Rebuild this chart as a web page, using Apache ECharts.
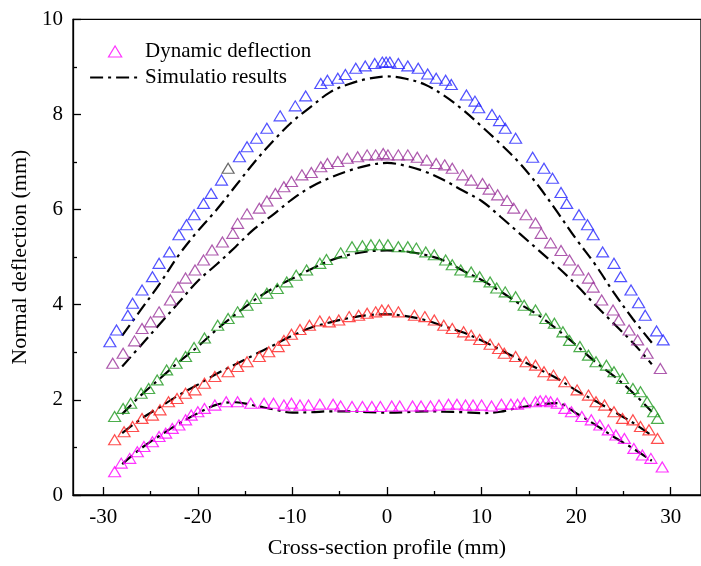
<!DOCTYPE html>
<html>
<head>
<meta charset="utf-8">
<script src="https://cdn.jsdelivr.net/npm/echarts@6/dist/echarts.min.js"></script>
<style>html,body{margin:0;padding:0;background:#fff}#c{width:701px;height:566px}</style>
</head>
<body>
<div id="c"></div>
<script>
// ---- data (x in mm, deflection in mm) ----
const xMajorTicks = [-30, -20, -10, 0, 10, 20, 30];
const xMinorTicks = [-25, -15, -5, 5, 15, 25];

const measBlue = [[-29.3,3.22],[-28.6,3.47],[-27.4,3.78],[-26.9,4.03],[-25.9,4.31],[-24.8,4.59],[-24.1,4.87],[-23.0,5.11],[-22.0,5.47],[-21.2,5.68],[-20.4,5.89],[-19.4,6.13],[-18.6,6.34],[-17.5,6.62],[-16.8,6.87],[-15.6,7.11],[-14.8,7.32],[-13.8,7.5],[-12.7,7.71],[-11.3,7.97],[-9.7,8.18],[-8.6,8.39],[-7.0,8.65],[-6.3,8.72],[-5.2,8.76],[-4.4,8.84],[-3.3,8.97],[-2.3,9.02],[-1.3,9.07],[-0.5,9.1],[-0.1,9.1],[0.3,9.1],[1.2,9.07],[2.2,9.02],[3.3,8.97],[4.3,8.85],[5.2,8.76],[6.2,8.72],[6.8,8.63],[8.4,8.41],[9.3,8.28],[9.7,8.14],[11.1,8.0],[11.9,7.87],[12.5,7.71],[13.6,7.5],[15.4,7.1],[16.6,6.87],[17.5,6.66],[18.4,6.36],[19.0,6.13],[20.3,5.89],[21.2,5.68],[21.8,5.47],[22.8,5.11],[24.0,4.87],[24.7,4.59],[25.8,4.31],[26.6,4.04],[27.3,3.78],[28.5,3.45],[29.2,3.26]];
const measPurple = [[-29.0,2.77],[-27.9,2.98],[-26.7,3.24],[-25.9,3.5],[-25.0,3.64],[-24.1,3.85],[-22.9,4.1],[-22.1,4.37],[-21.3,4.56],[-20.3,4.73],[-19.4,4.94],[-18.5,5.15],[-17.4,5.32],[-16.3,5.5],[-15.8,5.71],[-14.8,5.91],[-13.5,6.03],[-12.7,6.18],[-11.8,6.34],[-10.9,6.48],[-10.1,6.59],[-9.0,6.73],[-8.0,6.78],[-7.0,6.9],[-6.3,6.97],[-5.2,7.01],[-4.2,7.08],[-3.1,7.11],[-2.1,7.15],[-1.2,7.15],[-0.4,7.18],[0.1,7.15],[1.2,7.15],[2.2,7.15],[3.2,7.1],[4.2,7.04],[5.2,6.97],[6.1,6.94],[6.9,6.87],[8.0,6.73],[8.9,6.62],[10.1,6.55],[10.8,6.43],[11.7,6.31],[12.7,6.19],[13.4,6.03],[14.7,5.89],[15.7,5.72],[16.3,5.5],[17.3,5.3],[18.4,5.14],[19.3,4.94],[20.2,4.73],[21.3,4.56],[21.8,4.37],[22.7,4.1],[23.9,3.89],[24.5,3.68],[25.6,3.47],[26.5,3.26],[27.5,2.98],[28.9,2.66]];
const measGreen = [[-28.8,1.65],[-27.9,1.82],[-27.1,1.93],[-26.0,2.14],[-25.2,2.24],[-24.3,2.42],[-23.3,2.63],[-22.3,2.77],[-21.3,2.91],[-20.4,3.1],[-19.3,3.3],[-17.9,3.57],[-16.8,3.71],[-15.8,3.85],[-14.8,3.99],[-13.9,4.13],[-12.7,4.24],[-11.6,4.34],[-10.6,4.48],[-9.6,4.62],[-8.5,4.73],[-7.1,4.87],[-6.4,4.95],[-4.9,5.09],[-3.7,5.22],[-2.6,5.24],[-1.7,5.26],[-0.8,5.26],[0.1,5.26],[1.2,5.22],[2.2,5.22],[3.1,5.19],[4.1,5.11],[5.0,5.05],[6.2,4.94],[6.9,4.84],[7.8,4.73],[8.9,4.69],[9.8,4.59],[10.9,4.48],[11.6,4.35],[12.5,4.27],[13.6,4.17],[14.5,3.99],[15.7,3.89],[16.8,3.71],[17.7,3.61],[18.6,3.43],[19.3,3.25],[20.4,3.12],[21.3,2.94],[22.1,2.8],[23.2,2.73],[24.0,2.59],[24.9,2.45],[26.0,2.24],[26.8,2.17],[27.5,1.96],[28.2,1.75],[28.6,1.61]];
const measRed = [[-28.8,1.16],[-27.8,1.33],[-26.9,1.44],[-25.9,1.61],[-24.8,1.68],[-24.0,1.79],[-23.1,1.96],[-22.2,2.03],[-21.3,2.14],[-20.3,2.21],[-19.3,2.35],[-18.2,2.49],[-16.8,2.59],[-15.8,2.7],[-14.8,2.8],[-13.5,2.91],[-12.5,3.01],[-11.5,3.12],[-10.9,3.25],[-10.1,3.38],[-9.2,3.48],[-8.2,3.57],[-7.1,3.66],[-6.1,3.64],[-5.1,3.68],[-4.0,3.75],[-3.0,3.78],[-2.1,3.82],[-1.2,3.85],[-0.55,3.89],[0.14,3.89],[1.2,3.85],[2.9,3.78],[4.0,3.75],[5.0,3.68],[6.0,3.57],[6.9,3.5],[8.1,3.43],[8.9,3.36],[9.8,3.27],[10.9,3.17],[11.8,3.08],[12.4,2.98],[13.6,2.91],[14.7,2.8],[15.7,2.73],[16.6,2.59],[17.6,2.52],[18.8,2.38],[20.1,2.21],[21.3,2.1],[22.1,1.96],[23.0,1.89],[24.0,1.75],[24.9,1.61],[26.0,1.58],[26.8,1.44],[27.7,1.37],[28.6,1.19]];
const measMagenta = [[-28.8,0.49],[-28.1,0.67],[-27.2,0.77],[-26.4,0.91],[-25.7,1.02],[-24.8,1.12],[-24.1,1.23],[-23.4,1.3],[-22.7,1.4],[-22.0,1.47],[-21.3,1.58],[-20.7,1.68],[-20.0,1.75],[-19.3,1.82],[-18.2,1.89],[-17.0,1.96],[-15.8,1.96],[-14.4,1.93],[-13.0,1.93],[-12.0,1.93],[-10.9,1.89],[-10.1,1.93],[-9.2,1.89],[-8.3,1.89],[-7.1,1.91],[-5.7,1.91],[-4.9,1.87],[-3.7,1.86],[-2.6,1.86],[-1.6,1.86],[-0.7,1.86],[0.5,1.87],[1.35,1.87],[2.7,1.87],[3.6,1.87],[4.6,1.87],[5.5,1.89],[6.5,1.91],[7.4,1.91],[8.3,1.89],[9.1,1.89],[10.0,1.89],[11.05,1.87],[12.1,1.91],[13.1,1.91],[13.8,1.91],[14.5,1.94],[15.7,1.96],[16.2,1.98],[16.8,1.98],[17.3,1.96],[18.0,1.93],[18.8,1.82],[19.5,1.75],[20.6,1.65],[21.6,1.58],[22.5,1.47],[23.4,1.37],[24.2,1.26],[25.1,1.19],[26.1,0.98],[27.0,0.84],[27.9,0.77],[29.1,0.59]];

const simX = [-28,-26,-24,-22,-20,-18,-16,-14,-12,-10,-8,-6,-4,-2,0,2,4,6,8,10,12,14,16,18,20,22,24,26,28];
const simBlue    = [3.35,3.9,4.45,5.05,5.55,6.0,6.5,7.0,7.45,7.85,8.17,8.47,8.64,8.75,8.8,8.75,8.63,8.4,8.1,7.75,7.38,6.98,6.5,5.95,5.38,4.85,4.25,3.7,3.2];
const simPurple  = [2.7,3.15,3.6,4.05,4.5,4.85,5.22,5.6,5.9,6.22,6.48,6.67,6.82,6.93,6.98,6.92,6.8,6.62,6.4,6.18,5.85,5.5,5.15,4.8,4.42,4.0,3.6,3.2,2.75];
const simGreen   = [1.7,2.1,2.45,2.8,3.12,3.48,3.8,4.1,4.35,4.55,4.75,4.93,5.05,5.12,5.14,5.12,5.05,4.93,4.72,4.52,4.28,4.02,3.78,3.48,3.15,2.8,2.5,2.15,1.75];
const simRed     = [1.3,1.6,1.85,2.1,2.32,2.55,2.75,2.95,3.15,3.35,3.52,3.63,3.72,3.78,3.8,3.76,3.68,3.55,3.42,3.25,3.05,2.85,2.65,2.45,2.2,1.98,1.75,1.52,1.25];
const simMagenta = [0.65,0.98,1.25,1.5,1.72,1.9,1.95,1.88,1.8,1.73,1.74,1.76,1.76,1.74,1.73,1.74,1.76,1.75,1.74,1.72,1.75,1.84,1.9,1.93,1.72,1.48,1.22,0.98,0.72];

// ---- chart ----
const FONT = 'Liberation Serif';
const chart = echarts.init(document.getElementById('c'), null, {renderer: 'canvas'});
const triSize = [12, 10];
function meas(name, data, color, z) {
  return {
    type: 'scatter', name: name, data: data, symbol: 'triangle', symbolSize: triSize,
    itemStyle: {color: 'rgba(0,0,0,0)', borderColor: color, borderWidth: 1.2},
    emphasis: {disabled: true}, z: z
  };
}
function sim(vals) {
  return {
    type: 'line', name: 'Simulatio results', data: simX.map((x, i) => [x, vals[i]]),
    showSymbol: false, symbol: 'none', smooth: 0.35,
    itemStyle: {color: '#000'},
    lineStyle: {color: '#000', width: 2.2, type: [13, 5, 3, 5]},
    emphasis: {disabled: true}, z: 3
  };
}
const blue = meas('Dynamic deflection 5', measBlue, '#2626ff', 4);
blue.data = measBlue.map(p => (p[0] === -16.8 ? {value: p, itemStyle: {borderColor: '#444'}} : p));

const option = {
  animation: false,
  backgroundColor: '#fff',
  grid: {left: 73, top: 19.3, width: 639, height: 475.7, show: true, borderColor: '#000', borderWidth: 1.3},
  legend: {
    left: 84, top: 36, orient: 'vertical', itemWidth: 50, itemHeight: 11, itemGap: 5,
    textStyle: {fontFamily: FONT, fontSize: 21, color: '#000'},
    selectedMode: false,
    data: [
      {name: 'Dynamic deflection', icon: 'path://M6,0L12,10L0,10Z',
       itemStyle: {color: 'rgba(0,0,0,0)', borderColor: '#ff00ff', borderWidth: 1.2}},
      {name: 'Simulatio results',
       itemStyle: {color: 'rgba(0,0,0,0)', borderColor: 'rgba(0,0,0,0)', borderWidth: 0, opacity: 0},
       lineStyle: {color: '#000', width: 2.2, type: [13, 5, 3, 5]}}
    ]
  },
  xAxis: [{
    type: 'value', min: -33.2, max: 33.2, position: 'bottom',
    name: 'Cross-section profile (mm)', nameLocation: 'middle', nameGap: 42,
    nameTextStyle: {fontFamily: FONT, fontSize: 22, color: '#000'},
    axisLine: {show: true, onZero: false, lineStyle: {color: '#000', width: 1.3}},
    axisTick: {show: true, inside: true, length: 8, customValues: xMajorTicks, lineStyle: {color: '#000', width: 1.3}},
    axisLabel: {show: true, customValues: xMajorTicks, margin: 12, fontFamily: FONT, fontSize: 21, color: '#000'},
    splitLine: {show: false}
  }, {
    type: 'value', min: -33.2, max: 33.2, position: 'bottom',
    axisLine: {show: false},
    axisTick: {show: true, inside: true, length: 4, customValues: xMinorTicks, lineStyle: {color: '#000', width: 1.3}},
    axisLabel: {show: false},
    splitLine: {show: false}
  }],
  yAxis: {
    type: 'value', min: 0, max: 10, interval: 2,
    name: 'Normal deflection (mm)', nameLocation: 'middle', nameGap: 42, nameRotate: 90,
    nameTextStyle: {fontFamily: FONT, fontSize: 22, color: '#000'},
    axisLine: {show: true, onZero: false, lineStyle: {color: '#000', width: 1.3}},
    axisTick: {show: true, inside: true, length: 8, lineStyle: {color: '#000', width: 1.3}},
    minorTick: {show: true, splitNumber: 2, length: 4, lineStyle: {color: '#000', width: 1.3}},
    axisLabel: {margin: 10, fontFamily: FONT, fontSize: 21, color: '#000'},
    splitLine: {show: false}
  },
  series: [
    sim(simBlue), sim(simPurple), sim(simGreen), sim(simRed), sim(simMagenta),
    blue,
    meas('Dynamic deflection 4', measPurple, '#9a329a', 4),
    meas('Dynamic deflection 3', measGreen, '#1f9a1f', 4),
    meas('Dynamic deflection 2', measRed, '#ff2222', 4),
    meas('Dynamic deflection', measMagenta, '#ff00ff', 4)
  ]
};
chart.setOption(option);
</script>
</body>
</html>
